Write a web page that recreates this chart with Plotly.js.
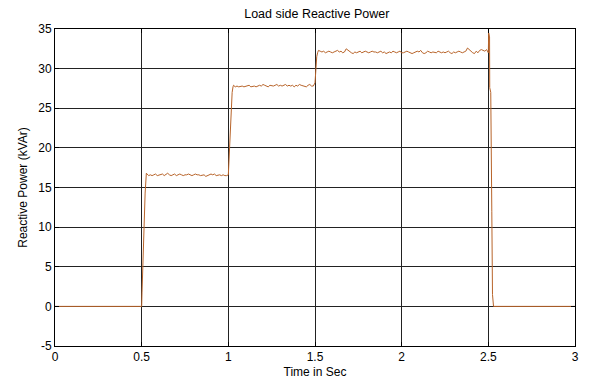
<!DOCTYPE html>
<html>
<head>
<meta charset="utf-8">
<script src="https://cdn.plot.ly/plotly-3.0.1.min.js"></script>
<style>html,body{margin:0;padding:0;background:#fff;}#chart{width:590px;height:381px;}</style>
</head>
<body>
<div id="chart"></div>
<script>
// Time (s)
var timeSec = [
  0, 0.5, 0.502, 0.507, 0.513, 0.52, 0.527,
  0.53, 0.54, 0.55, 0.56, 0.57, 0.58, 0.59, 0.60, 0.61, 0.62, 0.63, 0.64, 0.65, 0.66, 0.67, 0.68, 0.69,
  0.70, 0.71, 0.72, 0.73, 0.74, 0.75, 0.76, 0.77, 0.78, 0.79, 0.80, 0.81, 0.82, 0.83, 0.84, 0.85, 0.86,
  0.87, 0.88, 0.89, 0.90, 0.91, 0.92, 0.93, 0.94, 0.95, 0.96, 0.97, 0.98, 0.99, 1.0,
  1.003, 1.008, 1.013, 1.018, 1.022, 1.027,
  1.03, 1.04, 1.05, 1.06, 1.07, 1.08, 1.09, 1.10, 1.11, 1.12, 1.13, 1.14, 1.15, 1.16, 1.17, 1.18, 1.19,
  1.20, 1.21, 1.22, 1.23, 1.24, 1.25, 1.26, 1.27, 1.28, 1.29, 1.30, 1.31, 1.32, 1.33, 1.34, 1.35, 1.36,
  1.37, 1.38, 1.39, 1.40, 1.41, 1.42, 1.43, 1.44, 1.45, 1.46, 1.47, 1.48, 1.49, 1.50,
  1.505, 1.51, 1.515, 1.52,
  1.53, 1.54, 1.55, 1.56, 1.57, 1.58, 1.59, 1.60, 1.61, 1.62, 1.63, 1.64, 1.65, 1.66, 1.67, 1.68, 1.69,
  1.70, 1.71, 1.72, 1.73, 1.74, 1.75, 1.76, 1.77, 1.78, 1.79, 1.80, 1.81, 1.82, 1.83, 1.84, 1.85, 1.86,
  1.87, 1.88, 1.89, 1.90, 1.91, 1.92, 1.93, 1.94, 1.95, 1.96, 1.97, 1.98, 1.99, 2.00,
  2.01, 2.02, 2.03, 2.04, 2.05, 2.06, 2.07, 2.08, 2.09, 2.10, 2.11, 2.12, 2.13, 2.14, 2.15, 2.16, 2.17,
  2.18, 2.19, 2.20, 2.21, 2.22, 2.23, 2.24, 2.25, 2.26, 2.27, 2.28, 2.29, 2.30, 2.31, 2.32, 2.33, 2.34,
  2.35, 2.36, 2.37, 2.38, 2.39, 2.40, 2.41, 2.42, 2.43, 2.44, 2.45, 2.46, 2.47, 2.48, 2.49, 2.50,
  2.502, 2.507, 2.508, 2.514, 2.52, 2.524, 2.53, 3.0
];
// Reactive power (kVAr)
var reactivePower = [
  0, 0, 1.7, 5.8, 10.0, 14.3, 16.8,
  16.7, 16.5, 16.6, 16.5, 16.6, 16.7, 16.5, 16.6, 16.6, 16.7, 16.5, 16.6, 16.8, 16.6, 16.5, 16.6, 16.7,
  16.5, 16.6, 16.7, 16.6, 16.5, 16.6, 16.6, 16.7, 16.6, 16.5, 16.6, 16.7, 16.6, 16.6, 16.5, 16.6, 16.6,
  16.4, 16.5, 16.6, 16.7, 16.6, 16.7, 16.5, 16.6, 16.6, 16.5, 16.6, 16.5, 16.5, 16.6,
  18.0, 20.5, 23.5, 25.5, 27.0, 27.7,
  27.9, 27.7, 27.8, 27.7, 27.8, 27.8, 27.7, 27.8, 27.8, 27.9, 27.7, 27.8, 27.8, 27.7, 27.8, 27.9, 27.8,
  28.0, 27.9, 27.8, 27.7, 27.9, 27.8, 27.8, 27.9, 28.0, 27.8, 27.9, 27.8, 27.9, 28.0, 27.8, 27.9, 27.8,
  27.9, 27.7, 27.9, 27.8, 28.0, 27.9, 27.8, 27.8, 27.7, 27.9, 28.0, 27.8, 27.8, 28.2,
  30.5, 31.5, 32.0, 32.3,
  32.2, 32.1, 32.2, 32.0, 32.1, 32.2, 32.1, 32.0, 32.1, 32.2, 32.3, 32.1, 32.2, 32.0, 32.1, 32.5, 32.3,
  32.1, 32.0, 31.9, 32.1, 32.0, 32.1, 32.2, 32.0, 32.1, 32.2, 32.1, 32.0, 32.1, 32.2, 32.1, 32.1, 32.0,
  32.1, 32.2, 32.0, 32.1, 31.9, 32.0, 32.1, 32.0, 32.2, 32.1, 32.0, 32.1, 32.2, 32.0,
  32.0, 32.1, 32.2, 32.1, 32.0, 31.9, 32.0, 32.1, 32.2, 32.1, 32.3, 32.0, 31.9, 32.0, 32.2, 32.1, 32.0,
  32.1, 32.0, 32.0, 32.2, 32.1, 32.0, 32.1, 32.0, 32.1, 32.2, 32.0, 31.9, 32.1, 32.0, 32.1, 32.2, 32.1,
  32.0, 32.1, 32.2, 32.6, 32.4, 32.1, 32.0, 31.9, 32.2, 32.0, 32.3, 32.4, 32.3, 32.2, 32.4, 32.0,
  34.5, 34.0, 27.6, 27.0, 12.0, 1.5, 0, 0
];

var xTicks = [0, 0.5, 1, 1.5, 2, 2.5, 3];
var xTickText = ['0', '0.5', '1', '1.5', '2', '2.5', '3'];
var yTicks = [-5, 0, 5, 10, 15, 20, 25, 30, 35];
var yTickText = ['-5', '0', '5', '10', '15', '20', '25', '30', '35'];

var font = 'Arial, "Liberation Sans", sans-serif';

var trace = {
  x: timeSec,
  y: reactivePower,
  type: 'scatter',
  mode: 'lines',
  line: {color: '#b8642a', width: 1},
  hoverinfo: 'x+y'
};

var layout = {
  width: 590,
  height: 381,
  margin: {l: 55, r: 15, t: 29, b: 35},
  paper_bgcolor: '#ffffff',
  plot_bgcolor: '#ffffff',
  showlegend: false,
  title: {
    text: 'Load side Reactive Power',
    font: {family: font, size: 12.5, color: '#000'},
    x: 0.537, xanchor: 'center',
    y: 0.975, yanchor: 'top'
  },
  xaxis: {
    range: [0, 3],
    tickvals: xTicks,
    ticktext: xTickText,
    ticks: 'inside',
    ticklen: 4,
    tickcolor: '#000',
    showgrid: true,
    gridcolor: '#222',
    gridwidth: 1,
    zeroline: false,
    showline: true,
    linecolor: '#000',
    linewidth: 1,
    mirror: 'ticks',
    tickfont: {family: font, size: 12, color: '#000'},
    title: {text: 'Time in Sec', font: {family: font, size: 12, color: '#000'}, standoff: 4}
  },
  yaxis: {
    range: [-5, 35],
    tickvals: yTicks,
    ticktext: yTickText,
    ticks: 'inside',
    ticklen: 4,
    tickcolor: '#000',
    showgrid: true,
    gridcolor: '#222',
    gridwidth: 1,
    zeroline: false,
    showline: true,
    linecolor: '#000',
    linewidth: 1,
    mirror: 'ticks',
    tickfont: {family: font, size: 12, color: '#000'},
    title: {text: 'Reactive Power (kVAr)', font: {family: font, size: 12, color: '#000'}, standoff: 8}
  }
};

Plotly.newPlot('chart', [trace], layout, {staticPlot: true, displayModeBar: false});
</script>
</body>
</html>
